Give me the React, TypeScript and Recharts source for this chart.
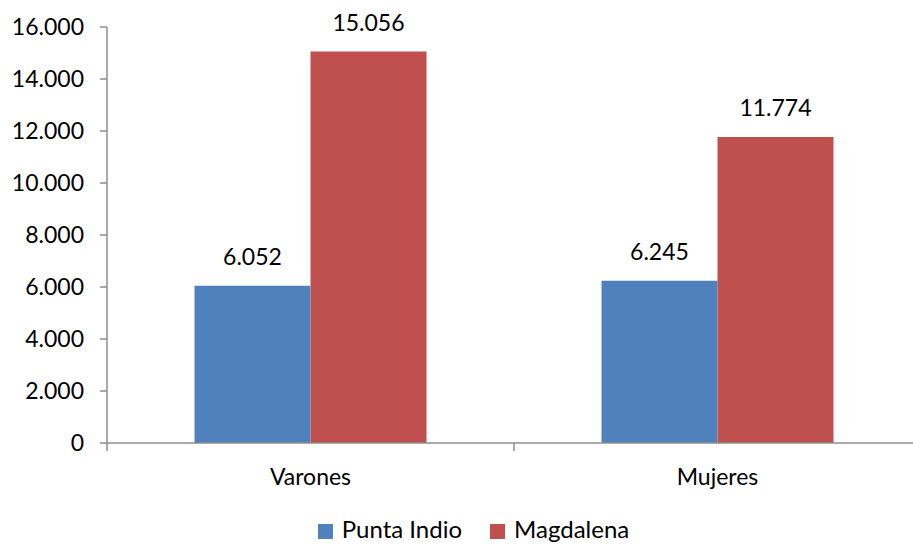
import { BarChart, Bar, XAxis, YAxis, Legend, LabelList } from "recharts";

// Población por sexo (Punta Indio vs Magdalena)
const categories = ["Varones", "Mujeres"];
const puntaIndio = [6052, 6245];
const magdalena = [15056, 11774];
const yTicks = [0, 2000, 4000, 6000, 8000, 10000, 12000, 14000, 16000];
const seriesOrder = ["Punta Indio", "Magdalena"];

const data = categories.map((name, i) => ({
  name,
  puntaIndio: puntaIndio[i],
  magdalena: magdalena[i],
}));

const FONT = "Lato, 'Open Sans', sans-serif";
const AXIS = "#8e8e8e";
const X_TICK_SIZE = 8;
const X_TICK_MARGIN = 18;

// 15056 -> "15.056"
const fmt = (v: number) =>
  String(v).replace(/\B(?=(\d{3})+(?!\d))/g, ".");

// category label + tick marks on the band edges (Excel style)
function CategoryTick(props: any) {
  const { x, y, payload, index, visibleTicksCount } = props;
  const half = payload.offset || 0;
  const axisY = y - X_TICK_SIZE - X_TICK_MARGIN;
  const isLast = index === (visibleTicksCount ?? categories.length) - 1;
  return (
    <g>
      <line
        x1={x - half}
        x2={x - half}
        y1={axisY}
        y2={axisY + X_TICK_SIZE}
        stroke={AXIS}
        strokeWidth={1.5}
      />
      {isLast && (
        <line
          x1={x + half}
          x2={x + half}
          y1={axisY}
          y2={axisY + X_TICK_SIZE}
          stroke={AXIS}
          strokeWidth={1.5}
        />
      )}
      <text
        x={x}
        y={y}
        dy="0.71em"
        textAnchor="middle"
        fill="#000"
        fontSize={23}
        fontFamily={FONT}
      >
        {payload.value}
      </text>
    </g>
  );
}

export default function App() {
  return (
    <div
      style={{
        position: "absolute",
        left: 0,
        top: 0,
        width: 913,
        height: 545,
        overflow: "hidden",
        background: "#fff",
        fontFamily: FONT,
      }}
    >
      <BarChart
        width={925}
        height={545}
        data={data}
        margin={{ top: 27, right: 4, bottom: 0, left: 0 }}
        barCategoryGap="21.5%"
        barGap={0}
      >
        <XAxis
          dataKey="name"
          axisLine={{ stroke: AXIS, strokeWidth: 1.5 }}
          tickLine={false}
          tickSize={X_TICK_SIZE}
          tickMargin={X_TICK_MARGIN}
          height={73}
          tick={<CategoryTick />}
        />
        <YAxis
          width={107}
          domain={[0, 16000]}
          ticks={yTicks}
          tickFormatter={fmt}
          axisLine={{ stroke: AXIS, strokeWidth: 1.5 }}
          tickLine={{ stroke: AXIS, strokeWidth: 1.5 }}
          tickSize={7}
          tickMargin={16}
          tick={{ fill: "#000", fontSize: 23, fontFamily: FONT }}
        />
        <Legend
          verticalAlign="bottom"
          iconType="square"
          iconSize={15}
          itemSorter={(item: any) => seriesOrder.indexOf(item.value)}
          wrapperStyle={{
            position: "absolute",
            top: 514,
            left: 31,
            width: 913,
            fontSize: 24,
            fontFamily: FONT,
            color: "#000",
          }}
          formatter={(value) => (
            <span style={{ color: "#000", marginLeft: 5, marginRight: 18 }}>
              {value}
            </span>
          )}
        />
        <Bar
          dataKey="puntaIndio"
          name="Punta Indio"
          fill="#4f81bd"
          isAnimationActive={false}
        >
          <LabelList
            dataKey="puntaIndio"
            position="top"
            offset={21}
            formatter={(v: number) => fmt(v)}
            style={{ fill: "#000", fontSize: 23, fontFamily: FONT }}
          />
        </Bar>
        <Bar
          dataKey="magdalena"
          name="Magdalena"
          fill="#c0504d"
          isAnimationActive={false}
        >
          <LabelList
            dataKey="magdalena"
            position="top"
            offset={21}
            formatter={(v: number) => fmt(v)}
            style={{ fill: "#000", fontSize: 23, fontFamily: FONT }}
          />
        </Bar>
      </BarChart>
    </div>
  );
}
